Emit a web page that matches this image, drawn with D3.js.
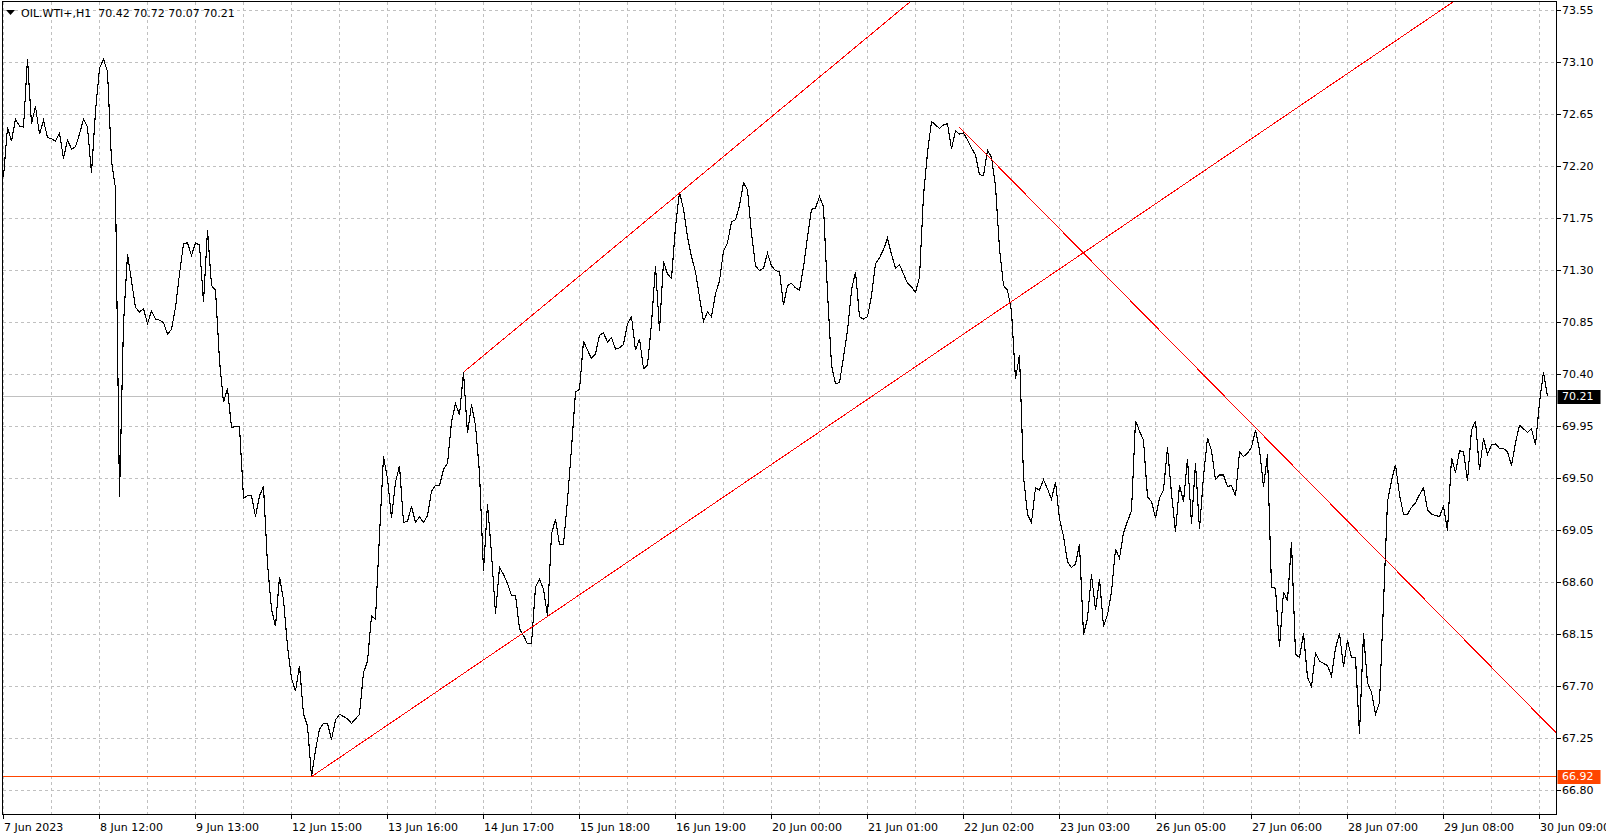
<!DOCTYPE html>
<html>
<head>
<meta charset="utf-8">
<script src="https://cdn.jsdelivr.net/npm/d3@7/dist/d3.min.js"></script>
<style>
  body { margin: 0; background: #fff; }
  text { font-family: "DejaVu Sans", sans-serif; font-size: 11px; }
</style>
</head>
<body>
<div id="chart"></div>
<script>
// hourly closes, OIL.WTI+ H1, 7 Jun 2023 -> 30 Jun 2023
const closes = [
  72.11, 72.54, 72.42, 72.61, 72.55, 72.54, 73.13, 72.57, 72.72, 72.48, 72.60, 72.45,
  72.44, 72.42, 72.49, 72.27, 72.43, 72.35, 72.37, 72.48, 72.61, 72.54, 72.14, 72.68,
  73.05, 73.13, 73.02, 72.25, 72.01, 69.34, 70.84, 71.44, 71.21, 70.98, 70.94, 70.97,
  70.84, 70.95, 70.88, 70.87, 70.85, 70.75, 70.79, 70.98, 71.27, 71.53, 71.54, 71.43,
  71.54, 71.52, 71.03, 71.65, 71.17, 71.13, 70.52, 70.16, 70.28, 69.94, 69.95, 69.95,
  69.33, 69.35, 69.35, 69.17, 69.35, 69.43, 68.76, 68.37, 68.22, 68.65, 68.45, 68.05,
  67.77, 67.66, 67.88, 67.46, 67.36, 66.92, 67.15, 67.33, 67.38, 67.38, 67.24, 67.41,
  67.46, 67.44, 67.42, 67.38, 67.42, 67.46, 67.82, 67.92, 68.31, 68.28, 69.01, 69.69,
  69.50, 69.16, 69.47, 69.61, 69.12, 69.13, 69.26, 69.12, 69.17, 69.12, 69.18, 69.39,
  69.44, 69.44, 69.58, 69.63, 69.99, 70.15, 70.05, 70.42, 69.89, 70.14, 69.96, 69.55,
  68.70, 69.28, 68.85, 68.33, 68.73, 68.67, 68.59, 68.49, 68.49, 68.20, 68.14, 68.07,
  68.07, 68.56, 68.63, 68.54, 68.31, 69.02, 69.15, 68.93, 68.93, 69.31, 69.76, 70.25,
  70.27, 70.69, 70.61, 70.54, 70.58, 70.74, 70.76, 70.68, 70.72, 70.62, 70.63, 70.66,
  70.84, 70.90, 70.61, 70.71, 70.45, 70.48, 70.84, 71.34, 70.78, 71.38, 71.27, 71.23,
  71.68, 71.98, 71.83, 71.59, 71.42, 71.29, 71.07, 70.86, 70.94, 70.90, 71.10, 71.21,
  71.47, 71.54, 71.72, 71.74, 71.86, 72.06, 72.00, 71.62, 71.34, 71.30, 71.32, 71.45,
  71.34, 71.30, 71.29, 71.00, 71.17, 71.19, 71.15, 71.13, 71.33, 71.59, 71.83, 71.84,
  71.94, 71.85, 71.11, 70.48, 70.32, 70.33, 70.55, 70.78, 71.13, 71.29, 70.90, 70.88,
  70.90, 71.08, 71.36, 71.41, 71.48, 71.58, 71.44, 71.32, 71.35, 71.27, 71.19, 71.16,
  71.11, 71.24, 71.95, 72.32, 72.59, 72.56, 72.53, 72.56, 72.57, 72.35, 72.51, 72.48,
  72.49, 72.43, 72.36, 72.30, 72.13, 72.12, 72.34, 72.28, 72.03, 71.49, 71.17, 71.13,
  70.95, 70.36, 70.57, 69.52, 69.19, 69.12, 69.42, 69.40, 69.49, 69.41, 69.32, 69.47,
  69.15, 69.00, 68.78, 68.73, 68.76, 68.93, 68.15, 68.29, 68.67, 68.36, 68.63, 68.22,
  68.32, 68.52, 68.89, 68.81, 69.03, 69.13, 69.22, 70.00, 69.91, 69.83, 69.34, 69.30,
  69.16, 69.33, 69.40, 69.77, 69.37, 69.04, 69.44, 69.30, 69.67, 69.11, 69.63, 69.06,
  69.52, 69.85, 69.74, 69.49, 69.53, 69.53, 69.43, 69.44, 69.35, 69.73, 69.69, 69.72,
  69.77, 69.92, 69.75, 69.43, 69.71, 68.56, 68.55, 68.04, 68.52, 68.44, 68.95, 67.98,
  67.95, 68.16, 67.78, 67.70, 67.99, 67.92, 67.90, 67.88, 67.79, 68.03, 68.16, 67.87,
  68.10, 67.95, 67.95, 67.29, 68.16, 67.73, 67.65, 67.46, 67.56, 68.42, 69.30, 69.48,
  69.62, 69.36, 69.19, 69.19, 69.25, 69.29, 69.36, 69.42, 69.23, 69.19, 69.18, 69.17,
  69.26, 69.05, 69.68, 69.55, 69.74, 69.73, 69.48, 69.92, 70.00, 69.57, 69.85, 69.71,
  69.79, 69.80, 69.76, 69.76, 69.73, 69.61, 69.81, 69.96, 69.93, 69.90, 69.93, 69.79,
  70.16, 70.42, 70.21
];

const tickBars = [0, 24, 48, 72, 96, 120, 144, 168, 192, 216, 240, 264, 288, 312, 336, 360, 384];
const tickLabels = ['7 Jun 2023', '8 Jun 12:00', '9 Jun 13:00', '12 Jun 15:00', '13 Jun 16:00',
  '14 Jun 17:00', '15 Jun 18:00', '16 Jun 19:00', '20 Jun 00:00', '21 Jun 01:00', '22 Jun 02:00',
  '23 Jun 03:00', '26 Jun 05:00', '27 Jun 06:00', '28 Jun 07:00', '29 Jun 08:00', '30 Jun 09:00'];
const priceTicks = [66.80, 67.25, 67.70, 68.15, 68.60, 69.05, 69.50, 69.95,
  70.40, 70.85, 71.30, 71.75, 72.20, 72.65, 73.10, 73.55];

const supportLevel = 66.92;
const lastPrice = 70.21;
const header = 'OIL.WTI+,H1  70.42 70.72 70.07 70.21';
// trend lines: [bar1, price1, bar2, price2], drawn as rays to the right
const trendLines = [
  [115, 70.42, 169, 71.97],
  [77, 66.92, 140, 68.40],
  [239, 72.54, 313, 69.94]
];

const width = 1606;
const height = 838;
const plot = { left: 2.5, top: 1.5, right: 1556.5, bottom: 814.5 };

const x = d3.scaleLinear().domain([0, closes.length - 1]).range([3, 3 + 4 * (closes.length - 1)]);
const y = d3.scaleLinear().domain([66.80, 73.55]).range([790, 10]);
const px = v => Math.round(v) + 0.5;

const svg = d3.select('#chart')
  .append('svg')
  .attr('width', width)
  .attr('height', height)
  .style('display', 'block');

svg.append('rect').attr('width', width).attr('height', height).attr('fill', '#fff');

svg.append('defs')
  .append('clipPath')
  .attr('id', 'clip')
  .append('rect')
  .attr('x', plot.left)
  .attr('y', plot.top)
  .attr('width', plot.right - plot.left)
  .attr('height', plot.bottom - plot.top);

/* grid */
const grid = svg.append('g')
  .attr('stroke', '#c0c0c0')
  .attr('stroke-dasharray', '3,3')
  .attr('shape-rendering', 'crispEdges');

grid.selectAll('line.h')
  .data(priceTicks)
  .join('line')
  .attr('class', 'h')
  .attr('x1', plot.left).attr('x2', plot.right)
  .attr('y1', d => px(y(d))).attr('y2', d => px(y(d)));

grid.selectAll('line.v')
  .data(d3.range(0, closes.length, 12))
  .join('line')
  .attr('class', 'v')
  .attr('x1', d => px(x(d))).attr('x2', d => px(x(d)))
  .attr('y1', plot.top).attr('y2', plot.bottom);

const g = svg.append('g').attr('clip-path', 'url(#clip)');

// current price line
g.append('line')
  .attr('x1', plot.left).attr('x2', plot.right)
  .attr('y1', px(y(lastPrice))).attr('y2', px(y(lastPrice)))
  .attr('stroke', '#c0c0c0')
  .attr('shape-rendering', 'crispEdges');

// support level
g.append('line')
  .attr('x1', plot.left).attr('x2', plot.right)
  .attr('y1', px(y(supportLevel))).attr('y2', px(y(supportLevel)))
  .attr('stroke', '#ff4500')
  .attr('shape-rendering', 'crispEdges');

// price line
const line = d3.line()
  .x((d, i) => x(i) + 0.5)
  .y(d => y(d) + 0.5);

g.append('path')
  .datum(closes)
  .attr('d', line)
  .attr('fill', 'none')
  .attr('stroke', '#000')
  .attr('stroke-width', 1.1)
  .attr('shape-rendering', 'crispEdges');

// trend line rays
g.selectAll('line.trend')
  .data(trendLines)
  .join('line')
  .attr('class', 'trend')
  .attr('x1', d => x(d[0]) + 0.5)
  .attr('y1', d => y(d[1]) + 0.5)
  .attr('x2', d => x(500) + 0.5)
  .attr('y2', d => y(d[1] + (d[3] - d[1]) / (d[2] - d[0]) * (500 - d[0])) + 0.5)
  .attr('stroke', '#ff0000')
  .attr('shape-rendering', 'crispEdges');

/* frame */
svg.append('rect')
  .attr('x', plot.left).attr('y', plot.top)
  .attr('width', plot.right - plot.left).attr('height', plot.bottom - plot.top)
  .attr('fill', 'none').attr('stroke', '#000')
  .attr('shape-rendering', 'crispEdges');

/* price axis */
const yAxis = svg.append('g');
yAxis.selectAll('line')
  .data(priceTicks)
  .join('line')
  .attr('x1', plot.right).attr('x2', plot.right + 4)
  .attr('y1', d => px(y(d))).attr('y2', d => px(y(d)))
  .attr('stroke', '#000')
  .attr('shape-rendering', 'crispEdges');
yAxis.selectAll('text')
  .data(priceTicks)
  .join('text')
  .attr('x', 1562)
  .attr('y', d => y(d))
  .attr('dy', '0.36em')
  .attr('fill', '#000')
  .text(d => d.toFixed(2));

function priceTag(value, bg) {
  svg.append('rect')
    .attr('x', plot.right + 1).attr('y', Math.round(y(value)) - 6)
    .attr('width', 43).attr('height', 14)
    .attr('fill', bg);
  svg.append('text')
    .attr('x', 1562).attr('y', y(value))
    .attr('dy', '0.36em')
    .attr('fill', '#fff')
    .text(value.toFixed(2));
}
priceTag(lastPrice, '#000');
priceTag(supportLevel, '#ff4500');

/* time axis */
const xAxis = svg.append('g');
xAxis.selectAll('line')
  .data(tickBars)
  .join('line')
  .attr('x1', d => px(x(d))).attr('x2', d => px(x(d)))
  .attr('y1', plot.bottom).attr('y2', plot.bottom + 4)
  .attr('stroke', '#000')
  .attr('shape-rendering', 'crispEdges');
xAxis.selectAll('text')
  .data(tickBars)
  .join('text')
  .attr('x', d => x(d) + 1)
  .attr('y', 831)
  .attr('fill', '#000')
  .text((d, i) => tickLabels[i]);

/* header */
svg.append('path')
  .attr('d', 'M6,10L15,10L10.5,15Z')
  .attr('fill', '#000');
svg.append('text')
  .attr('x', 21).attr('y', 17)
  .attr('fill', '#000')
  .style('white-space', 'pre')
  .text(header);
</script>
</body>
</html>
